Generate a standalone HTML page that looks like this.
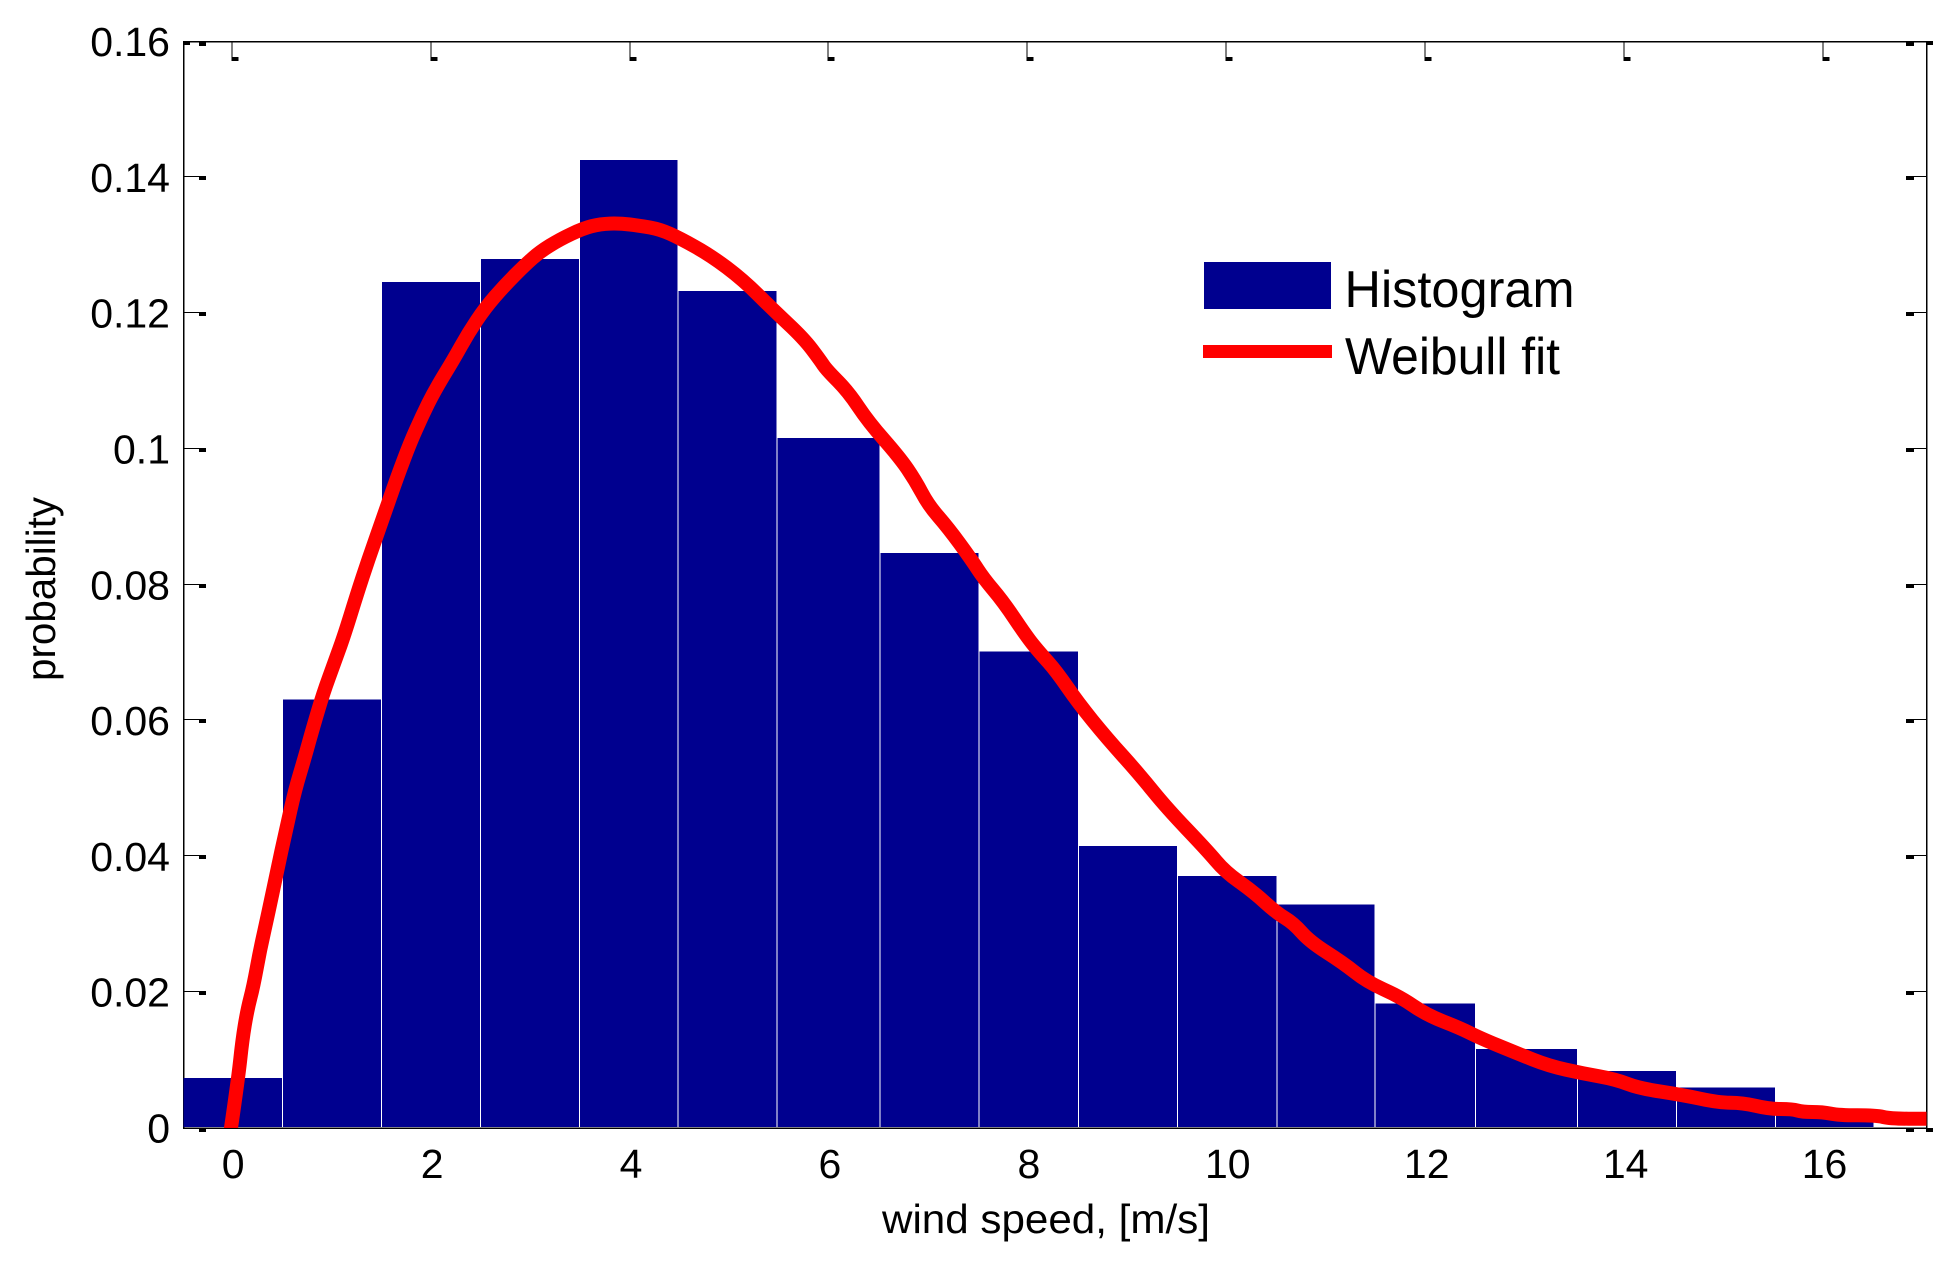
<!DOCTYPE html>
<html lang="en">
<head>
<meta charset="utf-8">
<title>Wind speed histogram with Weibull fit</title>
<style>
  html, body { margin: 0; padding: 0; background: #fff; }
  svg { display: block; }
  text { font-family: "Liberation Sans", Arial, sans-serif; fill: #000; }
</style>
</head>
<body>
<svg id="chart" xmlns="http://www.w3.org/2000/svg" width="1949" height="1265" viewBox="0 0 1949 1265">
  <defs>
    <clipPath id="plot-clip"><rect x="184" y="30" width="1742.5" height="1098"></rect></clipPath>
  </defs>
  <rect x="0" y="0" width="1949" height="1265" fill="#fff"></rect>
  <g id="axes" shape-rendering="crispEdges"></g>
  <g id="bars" shape-rendering="crispEdges"></g>
  <path id="curve" fill="none" stroke="#ff0000" stroke-width="14" stroke-linejoin="round" stroke-linecap="square" clip-path="url(#plot-clip)"></path>
  <g id="tick-labels"></g>
  <text x="1046" y="1233" font-size="41" text-anchor="middle" textLength="328" lengthAdjust="spacingAndGlyphs">wind speed, [m/s]</text>
  <text transform="translate(55 589) rotate(-90)" font-size="41" text-anchor="middle" textLength="184" lengthAdjust="spacingAndGlyphs">probability</text>
  <g>
    <rect x="1204" y="262" width="127" height="47" fill="#00008f" shape-rendering="crispEdges"></rect>
    <text x="1344.5" y="307" font-size="52" textLength="230" lengthAdjust="spacingAndGlyphs">Histogram</text>
    <rect x="1203" y="345" width="129" height="13" fill="#ff0000" shape-rendering="crispEdges"></rect>
    <text x="1345" y="374" font-size="52" textLength="215" lengthAdjust="spacingAndGlyphs">Weibull fit</text>
  </g>
</svg>
<script>
const binEdges = [-0.48, 0.509, 1.504, 2.5, 3.497, 4.487, 5.483, 6.518, 7.514, 8.514, 9.509, 10.509, 11.495, 12.504, 13.529, 14.524, 15.52, 16.512];
const binValues = [0.0074, 0.0631, 0.1246, 0.128, 0.14257, 0.1233, 0.1016, 0.0847, 0.0702, 0.0415, 0.0371, 0.0329, 0.0183, 0.0116, 0.0084, 0.006, 0.0028];
const curveSpeeds = [-0.01, 0.063, 0.107, 0.157, 0.217, 0.285, 0.368, 0.452, 0.546, 0.636, 0.737, 0.82, 0.921, 1.032, 1.13, 1.257, 1.373, 1.508, 1.665, 1.793, 1.91, 2.044, 2.228, 2.379, 2.547, 2.748, 2.949, 3.1, 3.301, 3.535, 3.703, 3.904, 4.105, 4.306, 4.507, 4.809, 5.144, 5.445, 5.747, 5.915, 5.982, 6.199, 6.401, 6.719, 6.87, 7.004, 7.205, 7.44, 7.557, 7.758, 7.993, 8.127, 8.295, 8.512, 8.798, 9.132, 9.401, 9.803, 9.987, 10.271, 10.507, 10.674, 10.841, 11.176, 11.412, 11.746, 12.015, 12.35, 12.551, 12.91, 13.245, 13.579, 13.915, 14.149, 14.585, 14.954, 15.188, 15.456, 15.691, 15.791, 15.992, 16.16, 16.529, 16.68, 17.035];
const curveProbabilities = [-0.0003, 0.00707, 0.01296, 0.01738, 0.02081, 0.02622, 0.03166, 0.03756, 0.04389, 0.04978, 0.05468, 0.0591, 0.06406, 0.0685, 0.0725, 0.0785, 0.0837, 0.0893, 0.09592, 0.10088, 0.10476, 0.10869, 0.11311, 0.11708, 0.12077, 0.12415, 0.1271, 0.12906, 0.13088, 0.1325, 0.13314, 0.13324, 0.13289, 0.13236, 0.13103, 0.12857, 0.12489, 0.12047, 0.11635, 0.11311, 0.11164, 0.10844, 0.10402, 0.09867, 0.09543, 0.09175, 0.08837, 0.08365, 0.081, 0.07751, 0.07236, 0.06996, 0.0672, 0.06259, 0.05744, 0.05199, 0.04713, 0.04094, 0.03775, 0.0348, 0.03166, 0.03019, 0.02744, 0.0243, 0.02155, 0.01934, 0.01664, 0.01473, 0.01325, 0.01109, 0.00913, 0.00806, 0.00717, 0.00585, 0.00486, 0.00373, 0.00373, 0.0028, 0.0028, 0.00236, 0.00236, 0.00187, 0.00187, 0.00137, 0.00137];
const xTickValues = [0, 2, 4, 6, 8, 10, 12, 14, 16];
const yTickValues = [0, 0.02, 0.04, 0.06, 0.08, 0.1, 0.12, 0.14, 0.16];

const SVG_NS = 'http://www.w3.org/2000/svg';
const xScale = function (v) { return 231.7 + 99.46 * v; };
const yScale = function (v) { return 1128 - 6790 * v; };

function makeRect(parent, x, y, w, h, fill) {
  const r = document.createElementNS(SVG_NS, 'rect');
  r.setAttribute('x', x);
  r.setAttribute('y', y);
  r.setAttribute('width', w);
  r.setAttribute('height', h);
  r.setAttribute('fill', fill);
  parent.appendChild(r);
  return r;
}

const axes = document.getElementById('axes');

const leftAxis = makeRect(axes, 183, 41, 1.5, 1088, '#000');


const rightAxis = makeRect(axes, 1926, 41, 1.5, 1088, '#000');


const topAxis = makeRect(axes, 183, 41, 1744, 1.5, '#000');


const bottomAxis = makeRect(axes, 183, 1127.5, 1744, 1.5, '#000');



yTickValues.forEach(function (v, i) {
  const isEnd = i === 0 || i === yTickValues.length - 1;
  const yy = isEnd ? Math.round(yScale(v)) : Math.round(yScale(v) - 1.3);
  const g = document.createElementNS(SVG_NS, 'g');
  
  
  axes.appendChild(g);
  if (!isEnd) {
    makeRect(g, 184, yy, 16, 1, '#000');
    makeRect(g, 1910, yy, 16, 1, '#000');
  }
  makeRect(g, 199, yy, 7, 4, '#000');
  makeRect(g, 1906, yy, 8, 4, '#000');
});

const cornerTopLeft = makeRect(axes, 184, 41, 6, 4, '#000');


const cornerTopRight = makeRect(axes, 1926, 41, 7, 4, '#000');


const cornerBottomRight = makeRect(axes, 1926, 1128, 7, 4, '#000');



xTickValues.forEach(function (v) {
  const xx = Math.round(xScale(v));
  const g = document.createElementNS(SVG_NS, 'g');
  
  
  axes.appendChild(g);
  makeRect(g, xx - 0.5, 41, 1, 19, '#000');
  makeRect(g, xx - 0.5, 57, 7, 4, '#000');
});

const barsGroup = document.getElementById('bars');
binValues.forEach(function (v, i) {
  const left = xScale(binEdges[i]);
  const right = xScale(binEdges[i + 1]);
  const isFirst = i === 0;
  const x0 = isFirst ? left - 0.3 : left + 0.5;
  const bar = makeRect(barsGroup, x0, yScale(v), right - 0.5 - x0, 1127 - yScale(v), '#00008f');
  
  
});

/* Smooth through the read points using midpoints as on-curve anchors. */
const curvePoints = curveSpeeds.map(function (s, i) {
  return [xScale(s), yScale(curveProbabilities[i])];
});
let curvePath = 'M' + curvePoints[0][0].toFixed(1) + ' ' + curvePoints[0][1].toFixed(1);
for (let i = 1; i < curvePoints.length - 1; i++) {
  const mx = (curvePoints[i][0] + curvePoints[i + 1][0]) / 2;
  const my = (curvePoints[i][1] + curvePoints[i + 1][1]) / 2;
  curvePath += ' Q' + curvePoints[i][0].toFixed(1) + ' ' + curvePoints[i][1].toFixed(1) + ' ' + mx.toFixed(1) + ' ' + my.toFixed(1);
}
const lastPoint = curvePoints[curvePoints.length - 1];
curvePath += ' L' + lastPoint[0].toFixed(1) + ' ' + lastPoint[1].toFixed(1);
document.getElementById('curve').setAttribute('d', curvePath);

const labels = document.getElementById('tick-labels');
yTickValues.forEach(function (v) {
  const t = document.createElementNS(SVG_NS, 'text');
  
  
  t.setAttribute('x', 170);
  t.setAttribute('y', yScale(v) + 14.5);
  t.setAttribute('font-size', 41);
  t.setAttribute('text-anchor', 'end');
  t.textContent = String(v);
  labels.appendChild(t);
});
xTickValues.forEach(function (v) {
  const t = document.createElementNS(SVG_NS, 'text');
  
  
  t.setAttribute('x', xScale(v) + 1.5);
  t.setAttribute('y', 1178);
  t.setAttribute('font-size', 41);
  t.setAttribute('text-anchor', 'middle');
  t.textContent = String(v);
  labels.appendChild(t);
});
</script>
</body>
</html>
